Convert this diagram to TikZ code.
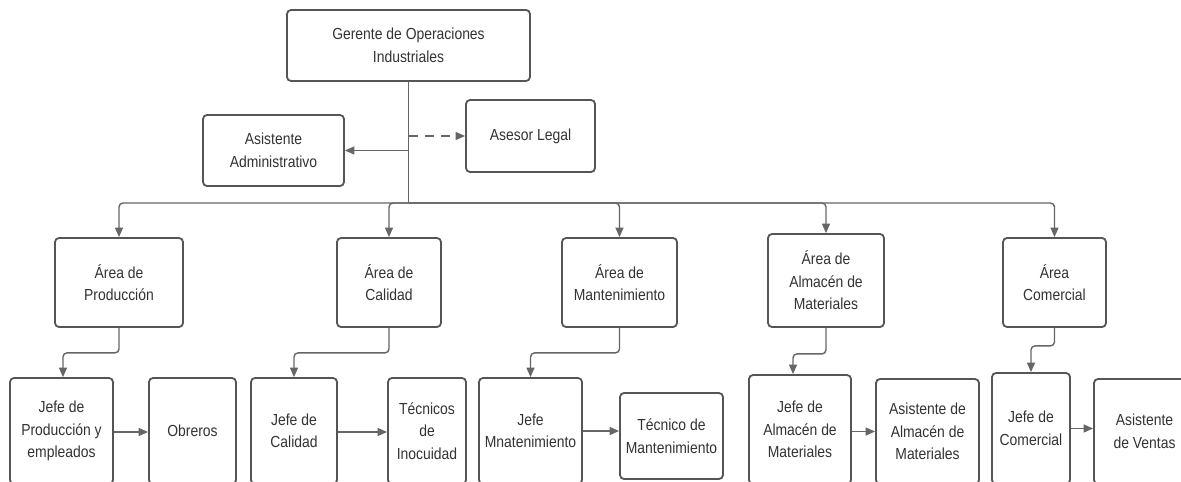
\documentclass[tikz,border=0pt]{standalone}
\usepackage{fontspec}
\setmainfont{Liberation Sans}[FakeStretch=0.87]
\usetikzlibrary{arrows.meta}
\definecolor{boxc}{HTML}{555555}
\definecolor{linec}{HTML}{666666}
\definecolor{txt}{HTML}{333333}
\begin{document}
\begin{tikzpicture}[x=1pt,y=-1pt,
  box/.style={draw=boxc, line width=1.8pt, rounded corners=4pt, align=center,
    inner sep=0pt, text=txt, font=\fontsize{16}{22.5}\selectfont},
  conn/.style={draw=linec, line width=1.4pt, rounded corners=4pt},
  arr/.style={conn, -{Triangle[length=9.5pt,width=8pt]}},
  darr/.style={arr, dash pattern=on 9pt off 7pt}]
\useasboundingbox (0,0) rectangle (1181,482);
\clip (0,0) rectangle (1181,482);
\fill[white] (0,0) rectangle (1181,482);

% top level
\node[box, minimum width=243pt, minimum height=71pt] (ger) at (408.5,45.5) {Gerente de Operaciones\\Industriales};
\node[box, minimum width=141pt, minimum height=71pt] (asis) at (273.5,150.5) {Asistente\\Administrativo};
\node[box, minimum width=129pt, minimum height=72pt] (legal) at (530.5,136) {Asesor Legal};

% areas
\node[box, minimum width=128pt, minimum height=89pt] (prod) at (119,282.5) {Área de\\Producción};
\node[box, minimum width=104pt, minimum height=89pt] (cal) at (389,282.5) {Área de\\Calidad};
\node[box, minimum width=115pt, minimum height=89pt] (mant) at (619.5,282.5) {Área de\\Mantenimiento};
\node[box, minimum width=116pt, minimum height=93pt] (alm) at (826,280.5) {Área de\\Almacén de\\Materiales};
\node[box, minimum width=103pt, minimum height=89pt] (com) at (1054.5,282.5) {Área\\Comercial};

% bottom level
\node[box, minimum width=103pt, minimum height=106pt] (jprod) at (61.5,431) {Jefe de\\Producción y\\empleados};
\node[box, minimum width=87pt, minimum height=106pt] (obr) at (192.5,431) {Obreros};
\node[box, minimum width=86pt, minimum height=106pt] (jcal) at (294,431) {Jefe de\\Calidad};
\node[box, minimum width=78pt, minimum height=106pt] (tcal) at (427,431) {Técnicos\\de\\Inocuidad};
\node[box, minimum width=103pt, minimum height=106pt] (jmant) at (530.5,431) {Jefe\\Mnatenimiento};
\node[box, minimum width=103pt, minimum height=86pt] (tmant) at (671.5,436) {Técnico de\\Mantenimiento};
\node[box, minimum width=102pt, minimum height=109pt] (jalm) at (800,429.5) {Jefe de\\Almacén de\\Materiales};
\node[box, minimum width=103pt, minimum height=105pt] (aalm) at (927.5,431.5) {Asistente de\\Almacén de\\Materiales};
\node[box, minimum width=78pt, minimum height=111pt] (jcom) at (1031,428.5) {Jefe de\\Comercial};
\node[box, minimum width=101pt, minimum height=105pt] (aven) at (1144.5,431.5) {Asistente\\de Ventas};

% trunk and bus
\coordinate (bus) at (408.5,203);
\draw[conn] (ger.south) -- (bus);
\draw[arr] (ger.south |- asis.east) -- (asis.east);
\draw[darr] (ger.south |- legal.west) -- (legal.west);
\draw[arr] (bus) -| (prod.north);
\draw[arr] (bus) -| (cal.north);
\draw[arr] (bus) -| (mant.north);
\draw[arr] (bus) -| (alm.north);
\draw[arr] (bus) -| (com.north);

% area to chief
\draw[arr] (prod.south) -- ++(0,25) -| ([xshift=1.5pt]jprod.north);
\draw[arr] (cal.south) -- ++(0,25) -| (jcal.north);
\draw[arr] (mant.south) -- ++(0,25) -| (jmant.north);
\draw[arr] (alm.south) -- ++(0,26) -| ([xshift=-7pt]jalm.north);
\draw[arr] (com.south) -- ++(0,18) -| (jcom.north);

% chief to staff
\draw[arr] ([yshift=-1pt]jprod.east) -- ([yshift=-1pt]jprod.east -| obr.west);
\draw[arr] ([yshift=-1pt]jcal.east) -- ([yshift=-1pt]jcal.east -| tcal.west);
\draw[arr] (jmant.east) -- (jmant.east -| tmant.west);
\draw[arr] ([yshift=-2pt]jalm.east) -- ([yshift=-2pt]jalm.east -| aalm.west);
\draw[arr] (jcom.east) -- (jcom.east -| aven.west);
\end{tikzpicture}
\end{document}
